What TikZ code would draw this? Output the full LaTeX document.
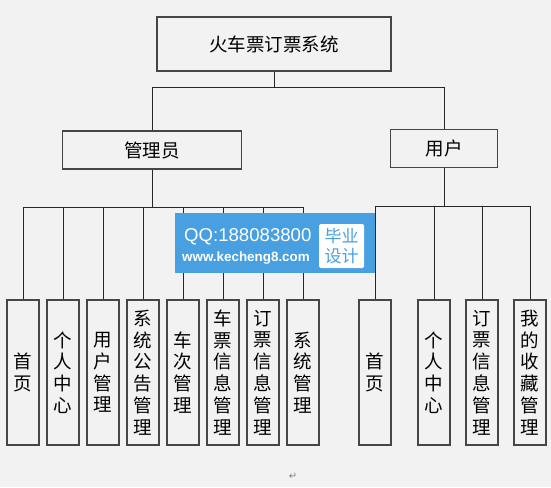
\documentclass[tikz,border=0pt]{standalone}
\usepackage{fontspec}
\newfontfamily\cjk{Noto Sans CJK SC}
\newfontfamily\wmfont{Liberation Sans}
\newfontfamily\symfont{DejaVu Sans}
\definecolor{bg}{RGB}{242,242,242}
\definecolor{boxline}{RGB}{70,70,70}
\definecolor{wmblue}{RGB}{72,160,225}
\begin{document}
\begin{tikzpicture}[x=1pt,y=-1pt,
  box/.style={draw=boxline,line width=1.3pt,fill=bg,inner sep=0pt,font=\cjk\fontsize{18.5}{22}\selectfont},
  leaf/.style={box,minimum width=32pt,minimum height=145pt,align=center,font=\cjk\fontsize{18.5}{21.8}\selectfont},
  conn/.style={draw=black!85,line width=0.8pt}]
\fill[bg] (0,0) rectangle (551,487);
\useasboundingbox (0,0) rectangle (551,487);

\node[box,minimum width=234pt,minimum height=54pt] (top) at (274,44) {火车票订票系统};
\node[box,minimum width=179pt,minimum height=38pt] (adm) at (152,150) {管理员};
\node[box,minimum width=107pt,minimum height=38pt] (usr) at (444,148.5) {用户};

\node[leaf] (L1) at (23,372.5) {首\\页};
\node[leaf] (L2) at (63,372.5) {个\\人\\中\\心};
\node[leaf] (L3) at (103,372.5) {用\\户\\管\\理};
\node[leaf] (L4) at (143,372.5) {系\\统\\公\\告\\管\\理};
\node[leaf] (L5) at (183,372.5) {车\\次\\管\\理};
\node[leaf] (L6) at (223,372.5) {车\\票\\信\\息\\管\\理};
\node[leaf] (L7) at (263,372.5) {订\\票\\信\\息\\管\\理};
\node[leaf] (L8) at (303,372.5) {系\\统\\管\\理};

\node[leaf] (R1) at (375,372.5) {首\\页};
\node[leaf] (R2) at (434,372.5) {个\\人\\中\\心};
\node[leaf] (R3) at (482,372.5) {订\\票\\信\\息\\管\\理};
\node[leaf] (R4) at (530,372.5) {我\\的\\收\\藏\\管\\理};

\coordinate (b1) at (0,87.5);
\coordinate (b2) at (0,207);
\coordinate (b3) at (0,206);

\draw[conn] (top.south) -- (top.south |- b1) -| (adm.north);
\draw[conn] (top.south |- b1) -| (usr.north);
\draw[conn] (adm.south) -- (adm.south |- b2);
\foreach \n in {L1,L2,L3,L4,L5,L6,L7,L8}
  \draw[conn] (adm.south |- b2) -| (\n.north);
\draw[conn] (usr.south) -- (usr.south |- b3);
\foreach \n in {R1,R2,R3,R4}
  \draw[conn] (usr.south |- b3) -| (\n.north);

% watermark overlay
\node[fill=wmblue,minimum width=200pt,minimum height=60pt,inner sep=0pt] (wm) at (275,243) {};
\node[text=white,inner sep=0pt,font=\wmfont\fontsize{18.6}{20}\selectfont,anchor=west] (qq) at (184,237) {QQ:188083800};
\node[text=white,inner sep=0pt,font=\wmfont\bfseries\fontsize{13.4}{14}\selectfont,anchor=west] (url) at (182,258.5) {www.kecheng8.com};
\node[fill=white,rounded corners=1.5pt,minimum width=45pt,minimum height=44pt,inner sep=0pt] (bybox) at (341.5,246) {};
\node[text=wmblue,inner sep=0pt,font=\cjk\fontsize{17}{20.5}\selectfont,align=center] (by) at (bybox) {毕业\\设计};

\node[text=gray,inner sep=0pt,font=\symfont\fontsize{10}{10}\selectfont] (ret) at (293,476) {↵};
\end{tikzpicture}
\end{document}
